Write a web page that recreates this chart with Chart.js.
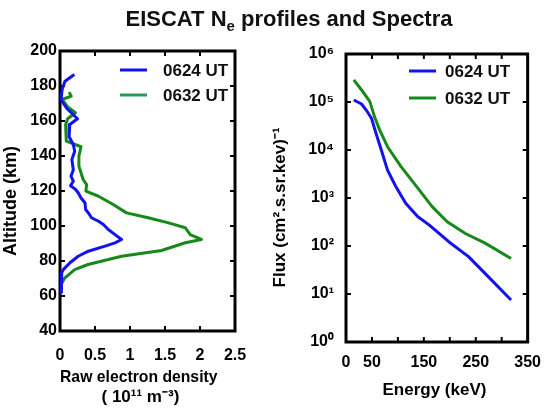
<!DOCTYPE html>
<html lang="en">
<head>
<meta charset="UTF-8">
<title>EISCAT Ne profiles and Spectra</title>
<script src="https://cdn.jsdelivr.net/npm/chart.js"></script>
<style>
  body {
    margin: 0;
    background: #fff;
    font-family: 'Liberation Sans', Arial, sans-serif;
  }
  #wrap {
    position: relative;
    width: 552px;
    height: 408px;
    overflow: hidden;
  }
  h1 {
    position: absolute;
    left: 0;
    top: 6px;
    width: 552px;
    margin: 0;
    padding-left: 26px;
    box-sizing: border-box;
    text-align: center;
    font-size: 22px;
    line-height: 26px;
    font-weight: bold;
    color: #111;
    z-index: 2;
  }
  h1 sub {
    font-size: 15px;
    line-height: 0;
    vertical-align: -5px;
  }
  canvas {
    position: absolute;
    top: 0;
  }
  #neChart { left: 0; }
  #fluxChart { left: 271px; }
</style>
</head>
<body>
<div id="wrap">
  <h1>EISCAT N<sub>e</sub> profiles and Spectra</h1>
  <canvas id="neChart" width="276" height="408"></canvas>
  <canvas id="fluxChart" width="281" height="408"></canvas>
</div>
<script>
  // electron density profiles (10^11 m^-3 vs km)
  const altitude0624 = [186.6, 182.7, 178, 172, 167, 161.3, 158, 151, 146.6, 142.7, 138, 132, 128.5, 125.6, 123, 121, 119, 116, 113.3, 109.4, 107.5, 104.7, 102.7, 100.9, 98, 95.1, 92.3, 90.4, 88.5, 85.6, 82.7, 79, 75.1, 73.3, 69, 66, 62];
  const density0624 = [0.205, 0.071, 0.03, 0.015, 0.1, 0.25, 0.14, 0.13, 0.19, 0.21, 0.17, 0.19, 0.157, 0.19, 0.15, 0.22, 0.26, 0.30, 0.357, 0.367, 0.405, 0.45, 0.55, 0.62, 0.69, 0.786, 0.88, 0.786, 0.643, 0.405, 0.26, 0.143, 0.047, 0.024, 0.02, 0.02, 0.02];
  const altitude0632 = [176.5, 174.2, 172.3, 168.1, 164.7, 161.3, 158, 148.5, 145.3, 139.9, 134.2, 126.6, 123.7, 119.9, 117, 112.3, 107.5, 104.7, 101.8, 99, 95.1, 92.3, 90.4, 86, 82.7, 78, 75.1, 70.4, 65.6, 61.8];
  const density0632 = [0.13, 0.16, 0.03, 0.11, 0.22, 0.11, 0.08, 0.09, 0.30, 0.27, 0.27, 0.33, 0.38, 0.37, 0.55, 0.76, 0.95, 1.26, 1.55, 1.79, 1.86, 2.02, 1.79, 1.45, 0.88, 0.40, 0.21, 0.07, 0.0, 0.0];

  // spectra (keV vs flux)
  const energy0624 = [15, 30, 39, 49, 58, 68, 80, 96, 115, 138, 160, 198, 236, 274, 318];
  const flux0624 = [1.1e5, 9.1e4, 6.8e4, 4.6e4, 2.2e4, 1.0e4, 3.8e3, 1.74e3, 780, 410, 275, 123, 60, 23, 7.5];
  const energy0632 = [15, 30, 46, 55, 65, 80, 106, 141, 166, 195, 230, 268, 318];
  const flux0632 = [2.9e5, 1.78e5, 1.02e5, 4.9e4, 2.6e4, 1.17e4, 4.5e3, 1.48e3, 660, 320, 182, 115, 55];

  const seriesLabels = ['0624 UT', '0632 UT'];

  const densityTicks = [0, 0.5, 1, 1.5, 2, 2.5];
  const densityTickLabels = ['0', '0.5', '1', '1.5', '2', '2.5'];
  const altitudeTicks = [40, 60, 80, 100, 120, 140, 160, 180, 200];
  const altitudeTickLabels = ['40', '60', '80', '100', '120', '140', '160', '180', '200'];
  const energyTicks = [0, 50, 100, 150, 200, 250, 300, 350];
  const energyTickLabels = ['0', '50', '', '150', '', '250', '', '350'];
  const fluxTicks = [1, 10, 100, 1e3, 1e4, 1e5, 1e6];
  const fluxTickLabels = ['10⁰', '10¹', '10²', '10³', '10⁴', '10⁵', '10⁶'];

  const BLUE = '#1212ee';
  const GREEN = '#16891a';
  const FONT = "'Liberation Sans', Arial, sans-serif";

  Chart.defaults.font.family = FONT;
  Chart.defaults.color = '#000';

  const tickFont = { size: 16, weight: 'bold' };
  const titleFont = { size: 17, weight: 'bold', lineHeight: 1.15 };

  const pts = (xs, ys) => xs.map((x, i) => ({ x, y: ys[i] }));
  const fixedTicks = values => scale => { scale.ticks = values.map(v => ({ value: v })); };

  // box frame with small inward ticks on all four sides
  const frameTicks = {
    id: 'frameTicks',
    beforeDatasetsDraw(chart) {
      const { ctx, chartArea: a, scales } = chart;
      const len = 5;
      ctx.save();
      ctx.strokeStyle = '#000';
      ctx.lineWidth = 2;
      ctx.beginPath();
      scales.x.ticks.forEach(t => {
        const px = scales.x.getPixelForValue(t.value);
        ctx.moveTo(px, a.bottom); ctx.lineTo(px, a.bottom - len);
        ctx.moveTo(px, a.top); ctx.lineTo(px, a.top + len);
      });
      scales.y.ticks.forEach(t => {
        const py = scales.y.getPixelForValue(t.value);
        ctx.moveTo(a.left, py); ctx.lineTo(a.left + len, py);
        ctx.moveTo(a.right, py); ctx.lineTo(a.right - len, py);
      });
      ctx.stroke();
      ctx.lineWidth = 3;
      ctx.strokeRect(a.left, a.top, a.right - a.left, a.bottom - a.top);
      ctx.restore();
    }
  };

  // legend in the upper right corner of the plot box
  const cornerLegend = {
    id: 'cornerLegend',
    afterDraw(chart, args, opts) {
      const { ctx, chartArea: a } = chart;
      ctx.save();
      ctx.font = 'bold 17px ' + FONT;
      ctx.textBaseline = 'middle';
      ctx.textAlign = 'left';
      chart.data.datasets.forEach((ds, i) => {
        const y = a.top + opts.y + i * opts.gap;
        ctx.strokeStyle = ds.legendColor || ds.borderColor;
        ctx.lineWidth = 3;
        ctx.beginPath();
        ctx.moveTo(a.left + opts.x, y);
        ctx.lineTo(a.left + opts.x + 27, y);
        ctx.stroke();
        ctx.fillStyle = '#111';
        ctx.fillText(ds.label, a.left + opts.textX, y + 1);
      });
      ctx.restore();
    }
  };

  const commonOptions = {
    responsive: false,
    animation: false,
    elements: {
      point: { radius: 0 },
      line: { borderWidth: 3, tension: 0, borderJoinStyle: 'round' }
    }
  };

  // trailing spaces nudge the centred axis titles the way the original sits
  new Chart(document.getElementById('neChart'), {
    type: 'line',
    data: {
      datasets: [
        { label: seriesLabels[0], data: pts(density0624, altitude0624), borderColor: BLUE },
        { label: seriesLabels[1], data: pts(density0632, altitude0632), borderColor: GREEN, legendColor: '#2c9858' }
      ]
    },
    options: {
      ...commonOptions,
      layout: { padding: { top: 51, right: 41, left: 0, bottom: 0 } },
      plugins: {
        legend: { display: false },
        tooltip: { enabled: false },
        cornerLegend: { x: 60, textX: 103, y: 19, gap: 25 }
      },
      scales: {
        x: {
          type: 'linear',
          min: 0,
          max: 2.5,
          afterBuildTicks: fixedTicks(densityTicks),
          afterFit: s => { s.height = 77; },
          grid: { display: false, drawTicks: false },
          border: { display: false },
          ticks: { padding: 15, font: tickFont, autoSkip: false, maxRotation: 0, callback: (v, i) => densityTickLabels[i] },
          title: { display: true, text: ['Raw electron density    ', '( 10¹¹ m⁻³)   '], font: titleFont, padding: { top: 0, bottom: 1 } }
        },
        y: {
          type: 'linear',
          min: 40,
          max: 200,
          afterBuildTicks: fixedTicks(altitudeTicks),
          afterFit: s => { s.width = 60; },
          grid: { display: false, drawTicks: false },
          border: { display: false },
          ticks: { padding: 3, font: tickFont, autoSkip: false, callback: (v, i) => altitudeTickLabels[i] },
          title: { display: true, text: 'Altitude (km)    ', font: { size: 18, weight: 'bold', lineHeight: 1.15 }, padding: { top: 1, bottom: 0 } }
        }
      }
    },
    plugins: [frameTicks, cornerLegend]
  });

  new Chart(document.getElementById('fluxChart'), {
    type: 'line',
    data: {
      datasets: [
        { label: seriesLabels[0], data: pts(energy0624, flux0624), borderColor: BLUE },
        { label: seriesLabels[1], data: pts(energy0632, flux0632), borderColor: GREEN }
      ]
    },
    options: {
      ...commonOptions,
      layout: { padding: { top: 54, right: 22, left: 0, bottom: 0 } },
      plugins: {
        legend: { display: false },
        tooltip: { enabled: false },
        cornerLegend: { x: 63, textX: 99, y: 17, gap: 27 }
      },
      scales: {
        x: {
          type: 'linear',
          min: 0,
          max: 350,
          afterBuildTicks: fixedTicks(energyTicks),
          afterFit: s => { s.height = 66; },
          grid: { display: false, drawTicks: false },
          border: { display: false },
          ticks: { padding: 11, font: tickFont, autoSkip: false, maxRotation: 0, callback: (v, i) => energyTickLabels[i] },
          title: { display: true, text: 'Energy (keV) ', font: titleFont, padding: { top: 0, bottom: 8 } }
        },
        y: {
          type: 'logarithmic',
          min: 1,
          max: 1e6,
          afterBuildTicks: fixedTicks(fluxTicks),
          afterFit: s => { s.width = 75; },
          grid: { display: false, drawTicks: false },
          border: { display: false },
          ticks: { padding: 12, font: tickFont, autoSkip: false, callback: (v, i) => fluxTickLabels[i] },
          title: { display: true, text: 'Flux (cm².s.sr.kev)⁻¹    ', font: titleFont, padding: { top: 0, bottom: 0 } }
        }
      }
    },
    plugins: [frameTicks, cornerLegend]
  });
</script>
</body>
</html>
